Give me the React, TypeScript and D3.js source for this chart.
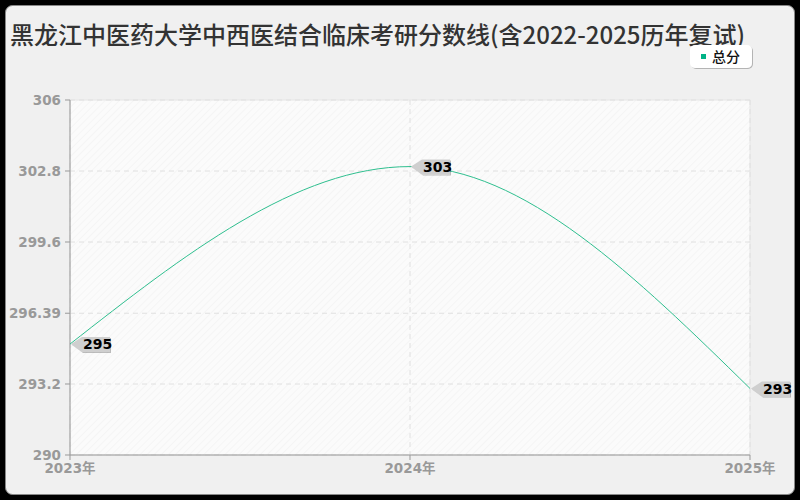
import React from "react";
import * as d3 from "d3";

const years = ["2023年", "2024年", "2025年"];
const scores = [295, 303, 293];
const yTicks = [290, 293.2, 296.39, 299.6, 302.8, 306];
const seriesName = "总分";
const title = "黑龙江中医药大学中西医结合临床考研分数线(含2022-2025历年复试)";

const W = 800;
const H = 500;
const M = { left: 70, right: 750, top: 100, bottom: 455 };

export default function App() {
  const x = d3.scalePoint<string>().domain(years).range([M.left, M.right]);
  const y = d3.scaleLinear().domain([290, 306]).range([M.bottom, M.top]);
  const pts: [number, number][] = scores.map((v, i) => [x(years[i]) as number, y(v)]);
  const line = d3.line().curve(d3.curveMonotoneX)(pts) || "";
  const font = "'DejaVu Sans', 'Noto Sans CJK SC', sans-serif";
  const titleFont = "'Noto Sans CJK SC', sans-serif";

  return (
    <div style={{ position: "absolute", left: 0, top: 0, width: W, height: H }}>
      <svg width={W} height={H} style={{ display: "block" }}>
        <defs>
          <pattern id="hatch" width="5" height="5" patternUnits="userSpaceOnUse" patternTransform="rotate(45)">
            <rect width="5" height="5" fill="#fbfbfb" />
            <line x1="0" y1="0" x2="0" y2="5" stroke="#f1f1f1" strokeWidth="1.2" />
          </pattern>
          <filter id="sh" x="-20%" y="-20%" width="140%" height="160%">
            <feDropShadow dx="1" dy="1" stdDeviation="0.6" floodColor="#000" floodOpacity="0.25" />
          </filter>
        </defs>
        <rect x={0} y={0} width={W} height={H} fill="#000" />
        <rect x={5.5} y={5.5} width={789} height={489} rx={7} fill="#f0f0f0" stroke="#888" strokeWidth={1} />
        <text x={10} y={44} fontFamily={titleFont} fontWeight={500} fontSize={24} fill="#333">
          {title}
        </text>
        {/* legend */}
        <rect x={690} y={45} width={62} height={23} rx={5} fill="#fff" filter="url(#sh)" />
        <rect x={701} y={54} width={5} height={5} fill="#00b386" />
        <text x={712} y={61.5} fontFamily={titleFont} fontSize={14} fontWeight={500} fill="#111">
          {seriesName}
        </text>
        {/* plot bg */}
        <rect x={M.left} y={M.top} width={M.right - M.left} height={M.bottom - M.top} fill="url(#hatch)" stroke="#e6e6e6" />
        {/* grid */}
        {yTicks.map((t) => (
          <line key={"g" + t} x1={M.left} x2={M.right} y1={y(t)} y2={y(t)} stroke="#e0e0e0" strokeDasharray="5,4" />
        ))}
        {years.map((yr) => (
          <line key={"v" + yr} x1={x(yr)} x2={x(yr)} y1={M.top} y2={M.bottom} stroke="#e0e0e0" strokeDasharray="5,4" />
        ))}
        {/* axes */}
        <line x1={M.left} x2={M.left} y1={M.top} y2={M.bottom} stroke="#999" />
        <line x1={M.left} x2={M.right} y1={M.bottom} y2={M.bottom} stroke="#999" />
        {yTicks.map((t) => (
          <g key={"t" + t}>
            <line x1={M.left - 5} x2={M.left} y1={y(t)} y2={y(t)} stroke="#999" />
            <text x={M.left - 9} y={y(t)} dy="0.35em" textAnchor="end" fontFamily={font} fontSize={13.5} fontWeight="600" fill="#999">
              {t}
            </text>
          </g>
        ))}
        {years.map((yr) => (
          <g key={"x" + yr}>
            <line x1={x(yr)} x2={x(yr)} y1={M.bottom} y2={M.bottom + 5} stroke="#999" />
            <text x={x(yr)} y={M.bottom + 18} textAnchor="middle" fontFamily={font} fontSize={13.5} fontWeight="600" fill="#999">
              {yr}
            </text>
          </g>
        ))}
        {/* line */}
        <path d={line} fill="none" stroke="#2fbf8f" strokeWidth={1} />
        {/* labels */}
        {pts.map(([px, py], i) => (
          <g key={"l" + i} transform={`translate(${px},${py})`}>
            <path d="M1,0 L12,-7 L40,-7 L40,8 L12,8 Z" fill="#cfcfcf" filter="url(#sh)" />
            <text x={13} y={0} dy="0.38em" fontFamily={font} fontSize={14} fontWeight="bold" fill="#000">
              {scores[i]}
            </text>
          </g>
        ))}
      </svg>
    </div>
  );
}
